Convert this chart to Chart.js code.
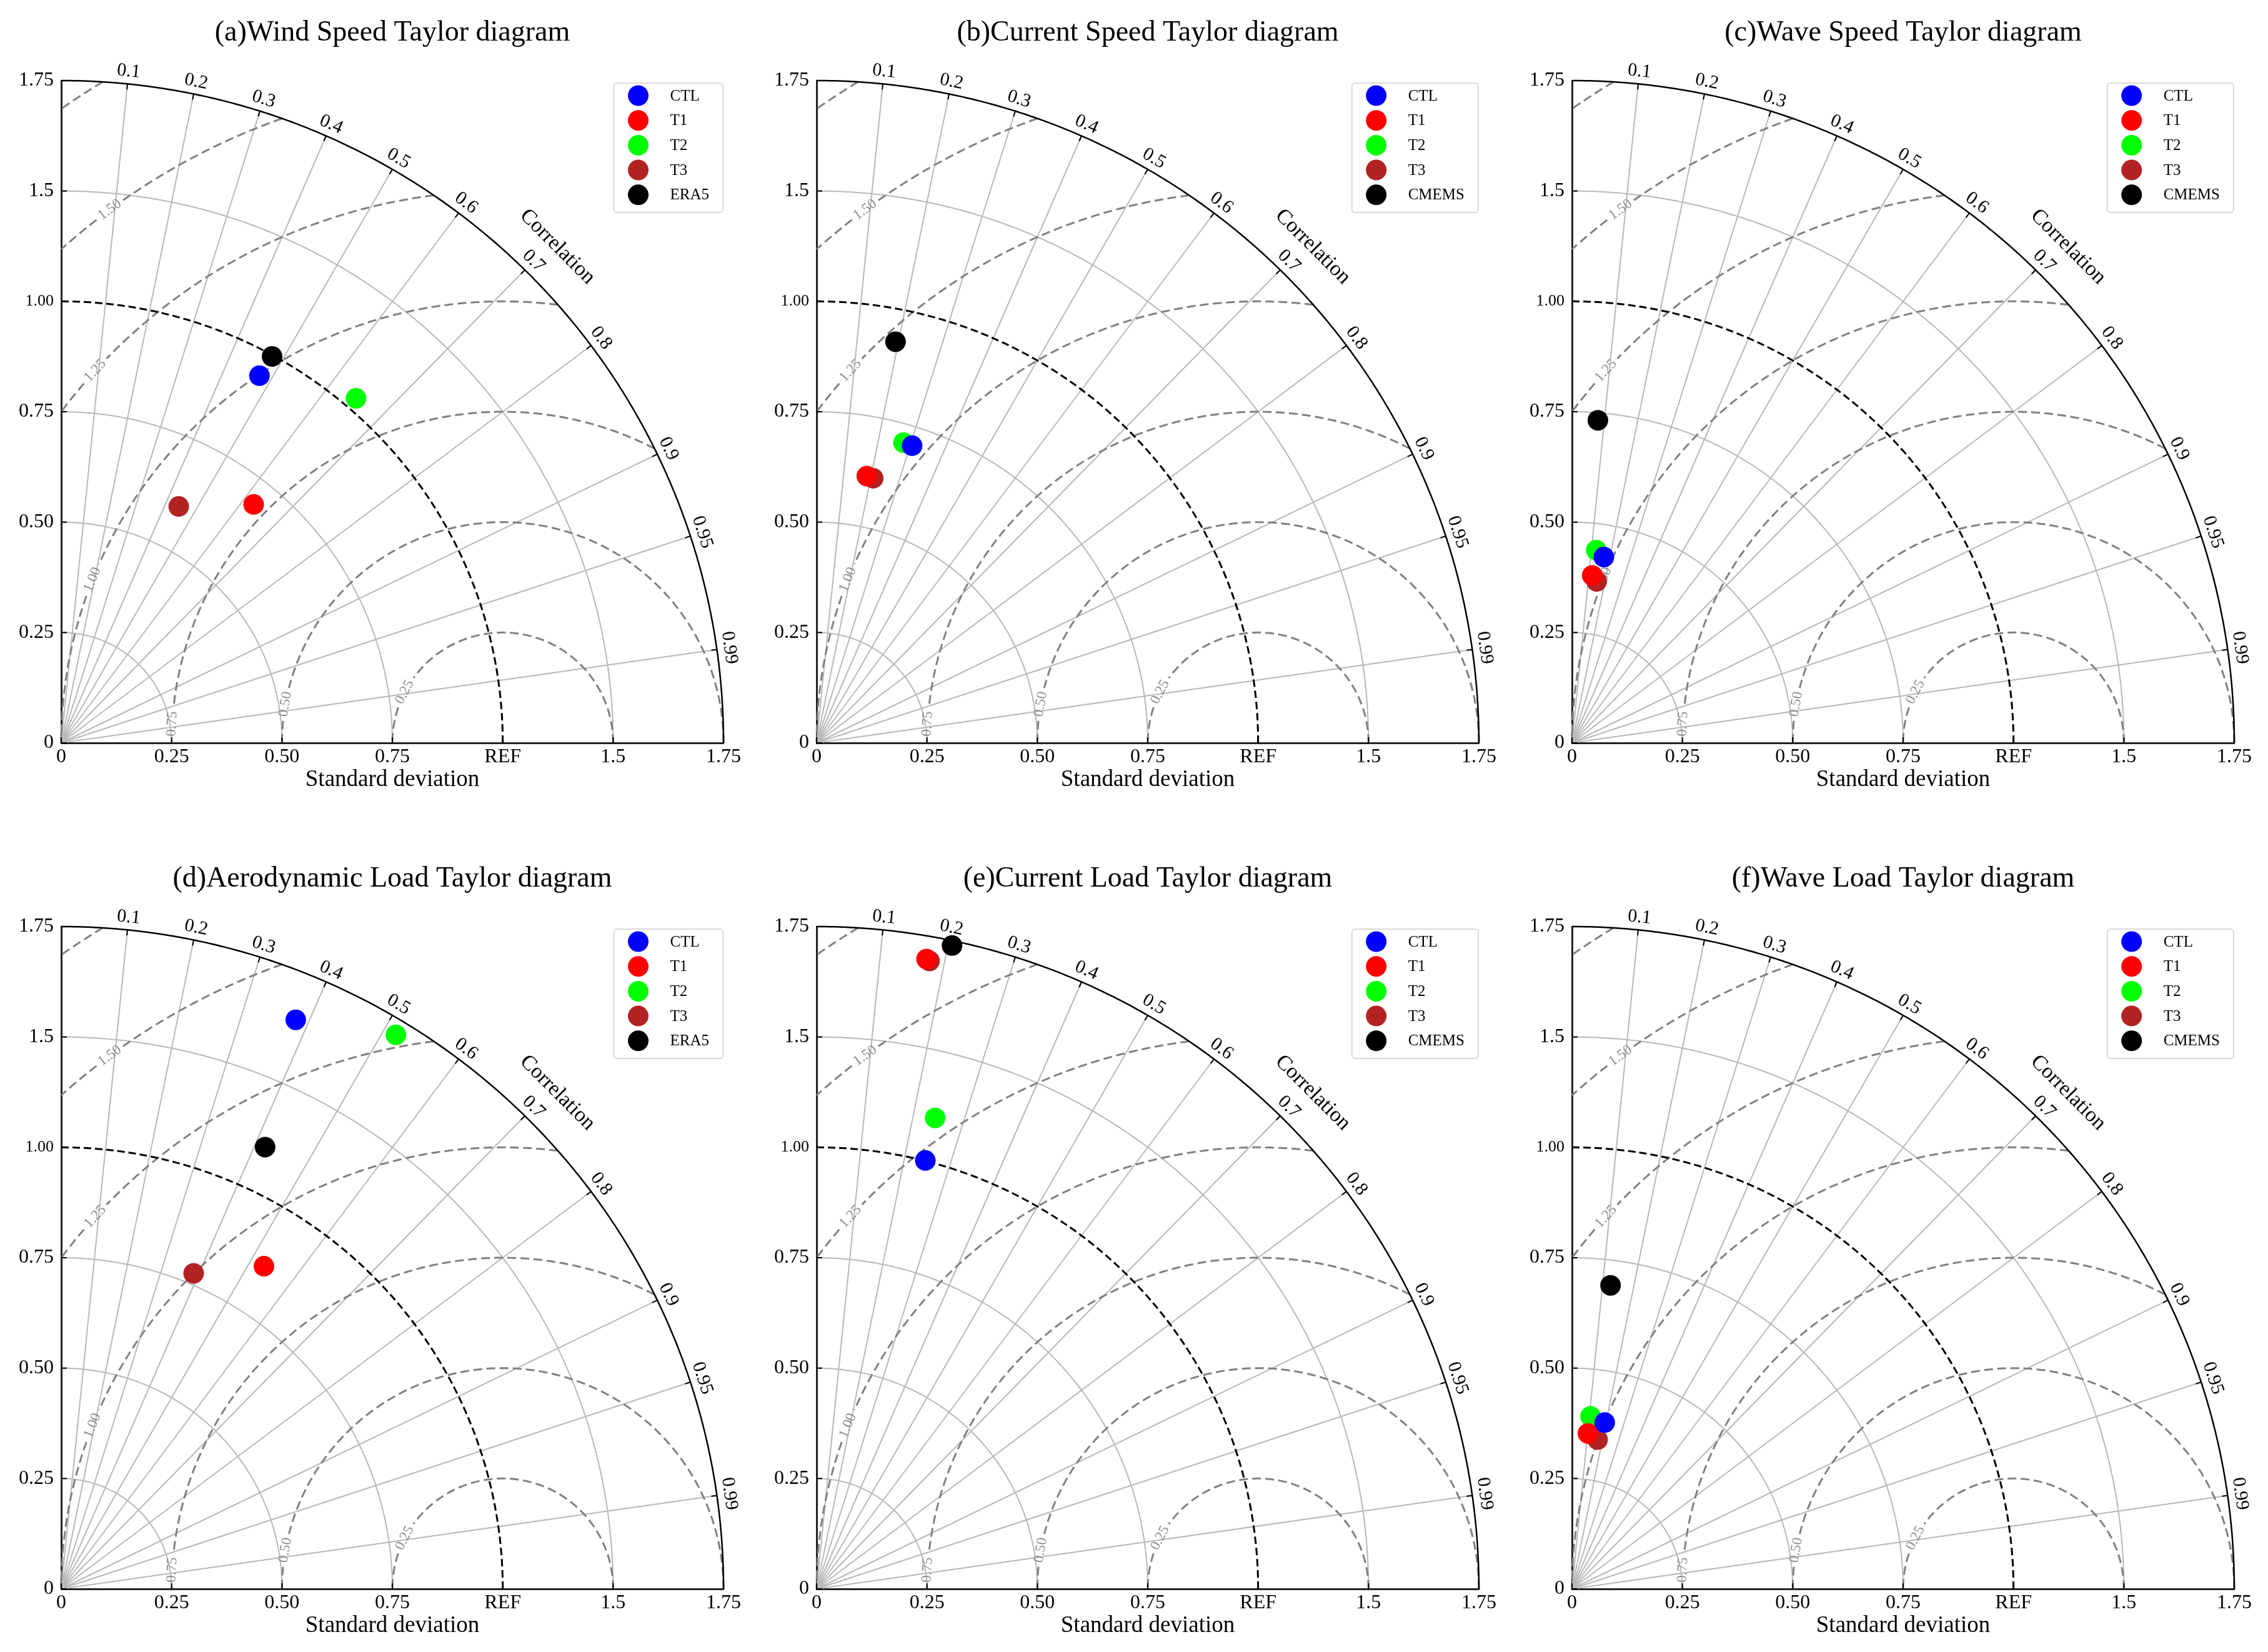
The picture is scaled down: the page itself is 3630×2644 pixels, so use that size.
<!DOCTYPE html>
<html lang="en">
<head>
  <meta charset="UTF-8">
  <title>Taylor diagrams</title>

  <!-- Chart.js: draws the six Taylor diagrams -->
  <script src="https://cdn.jsdelivr.net/npm/chart.js"></script>

  <style>
    body { margin: 0; background: #fff; }
    #page { position: relative; width: 3630px; height: 2644px; background: #fff; }
    canvas { position: absolute; }
  </style>
</head>
<body>
<div id="page"></div>

<script>
// panel titles and reference dataset names
const panelTitles = [
  '(a)Wind Speed Taylor diagram',
  '(b)Current Speed Taylor diagram',
  '(c)Wave Speed Taylor diagram',
  '(d)Aerodynamic Load Taylor diagram',
  '(e)Current Load Taylor diagram',
  '(f)Wave Load Taylor diagram'
];
const refNames = ['ERA5', 'CMEMS', 'CMEMS', 'ERA5', 'CMEMS', 'CMEMS'];

// series (normalised standard deviation, correlation), one value per panel a..f
const seriesNames = ['CTL', 'T1', 'T2', 'T3'];
const ctlStd  = [0.945, 0.707, 0.427, 1.394, 1.001, 0.384];
const ctlCorr = [0.475, 0.306, 0.169, 0.381, 0.246, 0.193];
const t1Std   = [0.694, 0.615, 0.382, 0.863, 1.448, 0.354];
const t1Corr  = [0.628, 0.185, 0.120, 0.532, 0.172, 0.102];
const t2Std   = [1.027, 0.708, 0.440, 1.466, 1.100, 0.393];
const t2Corr  = [0.650, 0.278, 0.125, 0.517, 0.244, 0.107];
const t3Std   = [0.598, 0.613, 0.370, 0.775, 1.445, 0.343];
const t3Corr  = [0.445, 0.209, 0.151, 0.387, 0.177, 0.169];
const refStd  = [0.997, 0.926, 0.733, 1.102, 1.489, 0.693];
const refCorr = [0.479, 0.193, 0.080, 0.419, 0.206, 0.126];

// axes and grid values
const stdMax = 1.5;
const refValue = 1.0;
const xTickLabels = ['0', '0.25', '0.50', '0.75', 'REF', '1.5', '1.75'];
const yTickLabels = ['0', '0.25', '0.50', '0.75', '1.00', '1.5', '1.75'];
const corrTicks = [0.1, 0.2, 0.3, 0.4, 0.5, 0.6, 0.7, 0.8, 0.9, 0.95, 0.99];
const stdArcs = [0.25, 0.5, 0.75, 1.25];
const rmsArcs = [0.25, 0.5, 0.75, 1.0, 1.25, 1.5, 1.75];
const rmsLabels = ['0.25', '0.50', '0.75', '1.00', '1.25', '1.50', ''];

const serif = "'Liberation Serif', 'DejaVu Serif', serif";
const seriesColors = ['#0000ff', '#ff0000', '#00ff00', '#b22222'];
const rmsLabelAngles = [152.6, 169.9, 176.7, 158.3, 137.6, 126.4, null];

Chart.defaults.font.family = serif;
Chart.defaults.color = '#000';

function drawPath(ctx, pts) {
  if (pts.length < 2) return;
  ctx.beginPath();
  pts.forEach((p, k) => k ? ctx.lineTo(p[0], p[1]) : ctx.moveTo(p[0], p[1]));
  ctx.stroke();
}

// Taylor diagram grid: std arcs, correlation rays, RMS circles, labels
const taylorPlugin = {
  id: 'taylor',
  beforeDatasetsDraw(chart) {
    const {ctx, scales: {x, y}} = chart;
    const unit = x.getPixelForValue(1) - x.getPixelForValue(0);
    const pt = (a, b) => [x.getPixelForValue(a), y.getPixelForValue(b)];
    const polar = (r, t) => pt(r * Math.cos(t), r * Math.sin(t));
    const deg = Math.PI / 180;
    const quarter = r => {
      const pts = [];
      for (let k = 0; k <= 240; k++) pts.push(polar(r, k / 240 * Math.PI / 2));
      return pts;
    };
    ctx.save();

    // std deviation arcs + correlation rays
    ctx.strokeStyle = '#b8b8b8';
    ctx.lineWidth = 2;
    stdArcs.forEach(r => drawPath(ctx, quarter(r)));
    corrTicks.forEach(c => drawPath(ctx, [polar(0, 0), polar(stdMax, Math.acos(c))]));

    // centred RMS circles around REF, broken where labelled
    ctx.font = `23px ${serif}`;
    ctx.strokeStyle = '#808080';
    ctx.lineWidth = 3;
    ctx.setLineDash([14, 7]);
    rmsArcs.forEach((rho, i) => {
      const c0 = (stdMax * stdMax - refValue * refValue - rho * rho) / (2 * rho * refValue);
      const f0 = c0 >= 1 ? 0 : Math.acos(c0);
      const f1 = rho > refValue ? Math.acos(-refValue / rho) : Math.PI;
      let g0 = Infinity, g1 = -Infinity;
      if (rmsLabels[i]) {
        const half = (ctx.measureText(rmsLabels[i]).width / 2 + 6) / (rho * unit);
        g0 = rmsLabelAngles[i] * deg - half;
        g1 = rmsLabelAngles[i] * deg + half;
      }
      let pts = [];
      for (let k = 0; k <= 500; k++) {
        const f = f0 + (f1 - f0) * k / 500;
        if (f > g0 && f < g1) { drawPath(ctx, pts); pts = []; continue; }
        pts.push(pt(refValue + rho * Math.cos(f), rho * Math.sin(f)));
      }
      drawPath(ctx, pts);
    });
    ctx.setLineDash([]);
    ctx.fillStyle = '#8c8c8c';
    ctx.textAlign = 'center';
    ctx.textBaseline = 'middle';
    rmsArcs.forEach((rho, i) => {
      if (!rmsLabels[i]) return;
      const fl = rmsLabelAngles[i] * deg;
      const p = pt(refValue + rho * Math.cos(fl), rho * Math.sin(fl));
      ctx.save();
      ctx.translate(p[0], p[1]);
      ctx.rotate(Math.PI / 2 - fl);
      ctx.fillText(rmsLabels[i], 0, 0);
      ctx.restore();
    });

    // REF arc
    ctx.strokeStyle = '#000';
    ctx.lineWidth = 3;
    ctx.setLineDash([12, 6]);
    drawPath(ctx, quarter(refValue));
    ctx.setLineDash([]);

    // outer arc, correlation ticks and labels
    ctx.lineWidth = 2.5;
    drawPath(ctx, quarter(stdMax));
    ctx.lineWidth = 2;
    ctx.fillStyle = '#000';
    ctx.font = `30px ${serif}`;
    corrTicks.forEach(c => {
      const t = Math.acos(c);
      drawPath(ctx, [polar(stdMax, t), polar(stdMax - 9 / unit, t)]);
      const p = polar(stdMax + 20 / unit, t);
      ctx.save();
      ctx.translate(p[0], p[1]);
      ctx.rotate(Math.PI / 2 - t);
      ctx.fillText(String(c), 0, 0);
      ctx.restore();
    });
    ctx.font = `34px ${serif}`;
    const pc = polar(stdMax + 63 / unit, Math.PI / 4);
    ctx.save();
    ctx.translate(pc[0], pc[1]);
    ctx.rotate(Math.PI / 4);
    ctx.fillText('Correlation', 0, 0);
    ctx.restore();

    // inward axis ticks
    x.ticks.forEach(tk => { const p = pt(tk.value, 0); drawPath(ctx, [p, [p[0], p[1] - 9]]); });
    y.ticks.forEach(tk => { const p = pt(0, tk.value); drawPath(ctx, [p, [p[0] + 9, p[1]]]); });
    ctx.restore();
  },

  // legend box in the upper right corner
  afterDatasetsDraw(chart) {
    const {ctx, chartArea} = chart;
    const sets = chart.data.datasets;
    ctx.save();
    ctx.font = `25px ${serif}`;
    const textW = Math.max(...sets.map(d => ctx.measureText(d.label).width));
    const w = 90 + textW + 22, h = 207;
    const left = chartArea.right - 1 - w, top = chartArea.top + 4;
    ctx.beginPath();
    ctx.roundRect(left, top, w, h, 5);
    ctx.fillStyle = 'rgba(255,255,255,0.85)';
    ctx.fill();
    ctx.strokeStyle = '#d9d9d9';
    ctx.lineWidth = 2;
    ctx.stroke();
    ctx.textAlign = 'left';
    ctx.textBaseline = 'middle';
    sets.forEach((d, i) => {
      const cy = top + 20 + 39.7 * i;
      ctx.beginPath();
      ctx.arc(left + 39, cy, 16.5, 0, Math.PI * 2);
      ctx.fillStyle = d.backgroundColor;
      ctx.fill();
      ctx.fillStyle = '#000';
      ctx.fillText(d.label, left + 90, cy + 1);
    });
    ctx.restore();
  }
};

function toXY(std, corr) {
  return {x: std * corr, y: std * Math.sqrt(1 - corr * corr)};
}

const stdSets = [ctlStd, t1Std, t2Std, t3Std];
const corrSets = [ctlCorr, t1Corr, t2Corr, t3Corr];
const colLeft = [97.5, 1306.5, 2516];
const rowTop = [129, 1483];
const page = document.getElementById('page');

panelTitles.forEach((title, p) => {
  const canvas = document.createElement('canvas');
  canvas.width = 1220;
  canvas.height = 1261;
  canvas.style.left = (colLeft[p % 3] - 80) + 'px';
  canvas.style.top = (rowTop[Math.floor(p / 3)] - 110) + 'px';
  page.appendChild(canvas);

  const datasets = seriesNames.map((name, i) => ({
    label: name,
    data: [toXY(stdSets[i][p], corrSets[i][p])],
    backgroundColor: seriesColors[i]
  }));
  datasets.push({label: refNames[p], data: [toXY(refStd[p], refCorr[p])], backgroundColor: '#000'});

  new Chart(canvas, {
    type: 'scatter',
    data: {datasets: datasets},
    options: {
      responsive: false,
      animation: false,
      devicePixelRatio: 1,
      events: [],
      layout: {padding: {top: 6, left: 0, right: 80, bottom: 10}},
      elements: {point: {radius: 16.5, borderWidth: 0, hoverRadius: 16.5}},
      datasets: {scatter: {clip: false}},
      plugins: {
        legend: {display: false},
        tooltip: {enabled: false},
        title: {
          display: true,
          fullSize: false,
          text: title,
          color: '#000',
          font: {size: 46, weight: 'normal', lineHeight: 1.2},
          padding: {top: 0, bottom: 48.8}
        }
      },
      scales: {
        x: {
          type: 'linear', min: 0, max: stdMax,
          grid: {display: false, drawTicks: false},
          border: {display: true, color: '#222', width: 3},
          ticks: {stepSize: 0.25, autoSkip: false, maxRotation: 0, padding: 3,
                  font: {size: 32}, callback: (v, i) => xTickLabels[i]},
          title: {display: true, text: 'Standard deviation', font: {size: 37}, padding: {top: 0, bottom: 0}},
          afterFit: s => { s.height = 81; }
        },
        y: {
          type: 'linear', min: 0, max: stdMax,
          grid: {display: false, drawTicks: false},
          border: {display: true, color: '#222', width: 3},
          ticks: {stepSize: 0.25, autoSkip: false, padding: 12,
                  font: c => ({size: c.index === 4 ? 26 : 32}),
                  callback: (v, i) => yTickLabels[i]},
          afterFit: s => { s.width = 80; }
        }
      }
    },
    plugins: [taylorPlugin]
  });
});
</script>
</body>
</html>
